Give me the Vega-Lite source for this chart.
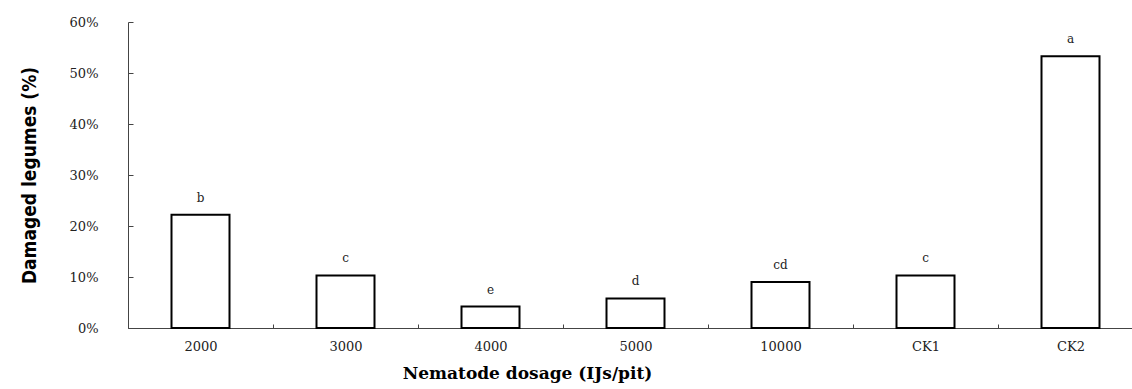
{
  "$schema": "https://vega.github.io/schema/vega-lite/v6.json",
  "width": 1004,
  "height": 306,
  "autosize": {"type": "none"},
  "padding": {"left": 128, "top": 22, "right": 0, "bottom": 61},
  "background": "white",
  "data": {"values": [
    {"dosage": "2000", "damaged": 0.222, "sig": "b"},
    {"dosage": "3000", "damaged": 0.103, "sig": "c"},
    {"dosage": "4000", "damaged": 0.042, "sig": "e"},
    {"dosage": "5000", "damaged": 0.058, "sig": "d"},
    {"dosage": "10000", "damaged": 0.090, "sig": "cd"},
    {"dosage": "CK1", "damaged": 0.103, "sig": "c"},
    {"dosage": "CK2", "damaged": 0.533, "sig": "a"}
  ]},
  "config": {"view": {"stroke": null}},
  "encoding": {
    "x": {
      "field": "dosage", "type": "nominal", "sort": null,
      "scale": {"range": [0, 1015], "paddingInner": 0, "paddingOuter": 0},
      "axis": {
        "title": "Nematode dosage (IJs/pit)",
        "titleFont": "DejaVu Serif", "titleFontSize": 17, "titleFontWeight": "bold", "titleColor": "black",
        "titlePadding": 12, "titleX": 399, "titleAnchor": "middle",
        "labelFont": "DejaVu Serif", "labelFontSize": 13, "labelColor": "#222", "labelAngle": 0,
        "labelPadding": 16,
        "tickBand": "extent", "tickSize": -4, "tickColor": "#444", "domainColor": "#444", "domainWidth": 1
      }
    },
    "y": {
      "field": "damaged", "type": "quantitative",
      "scale": {"domain": [0, 0.6], "nice": false},
      "axis": {
        "title": "Damaged legumes (%)", "format": ".0%", "values": [0, 0.1, 0.2, 0.3, 0.4, 0.5, 0.6],
        "titleFont": "Liberation Sans Narrow, DejaVu Sans Condensed", "titleFontSize": 19, "titleFontWeight": "bold", "titleColor": "black",
        "titlePadding": 30,
        "labelFont": "DejaVu Serif", "labelFontSize": 13, "labelColor": "#222",
        "labelPadding": 35, "grid": false,
        "tickSize": -5, "tickColor": "#444", "domainColor": "#444", "domainWidth": 1
      }
    }
  },
  "layer": [
    {
      "mark": {"type": "bar", "width": {"band": 0.4}, "fill": "white", "stroke": "black", "strokeWidth": 2}
    },
    {
      "mark": {"type": "text", "dy": -17, "baseline": "middle", "font": "DejaVu Serif", "fontSize": 12, "color": "#222"},
      "encoding": {"text": {"field": "sig"}}
    }
  ]
}
